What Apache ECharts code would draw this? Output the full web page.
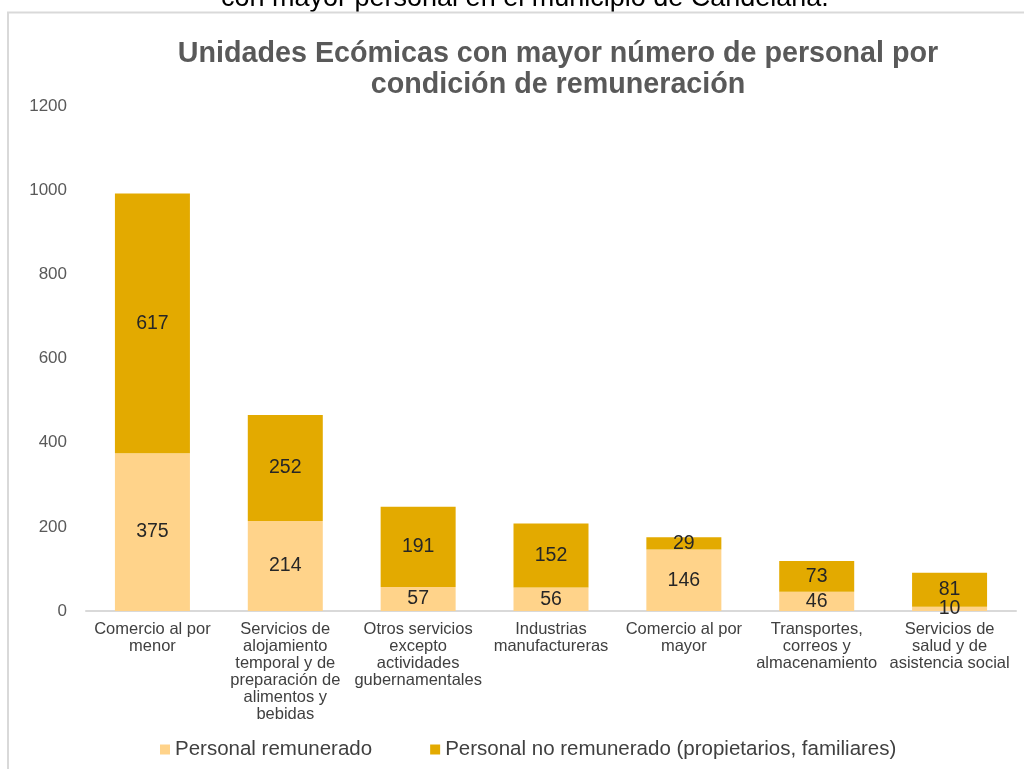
<!DOCTYPE html>
<html>
<head>
<meta charset="utf-8">
<script src="https://cdn.jsdelivr.net/npm/echarts@6/dist/echarts.min.js"></script>
<style>html,body{margin:0;padding:0;background:#fff}#c{width:1024px;height:769px}</style>
</head>
<body>
<div id="c"></div>
<script>
const categories = [
  'Comercio al por\nmenor',
  'Servicios de\nalojamiento\ntemporal y de\npreparación de\nalimentos y\nbebidas',
  'Otros servicios\nexcepto\nactividades\ngubernamentales',
  'Industrias\nmanufactureras',
  'Comercio al por\nmayor',
  'Transportes,\ncorreos y\nalmacenamiento',
  'Servicios de\nsalud y de\nasistencia social'
];
const remunerado = [375, 214, 57, 56, 146, 46, 10];
const noRemunerado = [617, 252, 191, 152, 29, 73, 81];
const seriesNames = ['Personal remunerado', 'Personal no remunerado (propietarios, familiares)'];
const titleText = 'Unidades Ecómicas con mayor número de personal por\ncondición de remuneración';
const captionText = 'con mayor personal en el municipio de Candelaria.';

const chart = echarts.init(document.getElementById('c'), null, {renderer: 'canvas'});
const font = 'Arial, "Liberation Sans", sans-serif';
const labelStyle = {show: true, position: 'inside', color: '#262626', fontSize: 19.5, fontFamily: font};
chart.setOption({
  animation: false,
  textStyle: {fontFamily: font},
  title: {
    text: titleText, left: 553, top: 34, textAlign: 'center',
    textStyle: {fontSize: 28.7, fontWeight: 'bold', color: '#595959', lineHeight: 31, fontFamily: font}
  },
  graphic: [
    {type: 'text', left: 221, top: -15, style: {text: captionText, fill: '#000', font: '27px Arial, "Liberation Sans", sans-serif'}, z: 10},
    {type: 'line', shape: {x1: 8, y1: 12, x2: 8, y2: 769}, style: {stroke: '#d9d9d9', lineWidth: 2}, z: 20},
    {type: 'line', shape: {x1: 7, y1: 12.5, x2: 1024, y2: 12.5}, style: {stroke: '#d9d9d9', lineWidth: 2}, z: 20},
    {type: 'rect', shape: {x: 0, y: 13.5, width: 1024, height: 12}, style: {fill: '#fff'}, z: 15}
  ],
  legend: {
    bottom: 4, left: 155, itemWidth: 10, itemHeight: 10, itemGap: 58,
    icon: 'rect',
    textStyle: {fontSize: 20.5, color: '#404040', fontFamily: font},
    data: seriesNames
  },
  grid: {left: 86, right: 8, top: 106, bottom: 158},
  xAxis: {
    type: 'category', data: categories,
    axisLine: {lineStyle: {color: '#d9d9d9', width: 2}},
    axisTick: {show: false},
    axisLabel: {interval: 0, color: '#404040', fontSize: 16.5, lineHeight: 17, margin: 10, fontFamily: font}
  },
  yAxis: {
    type: 'value', min: 0, max: 1200, interval: 200,
    axisLine: {show: false}, axisTick: {show: false}, splitLine: {show: false},
    axisLabel: {color: '#595959', fontSize: 17, margin: 19, fontFamily: font, formatter: v => String(v)}
  },
  series: [
    {name: seriesNames[0], type: 'bar', stack: 's', data: remunerado, barWidth: 75,
     itemStyle: {color: '#FFD38A'}, label: labelStyle},
    {name: seriesNames[1], type: 'bar', stack: 's', data: noRemunerado, barWidth: 75,
     itemStyle: {color: '#E3AA00'}, label: labelStyle}
  ]
});
</script>
</body>
</html>
